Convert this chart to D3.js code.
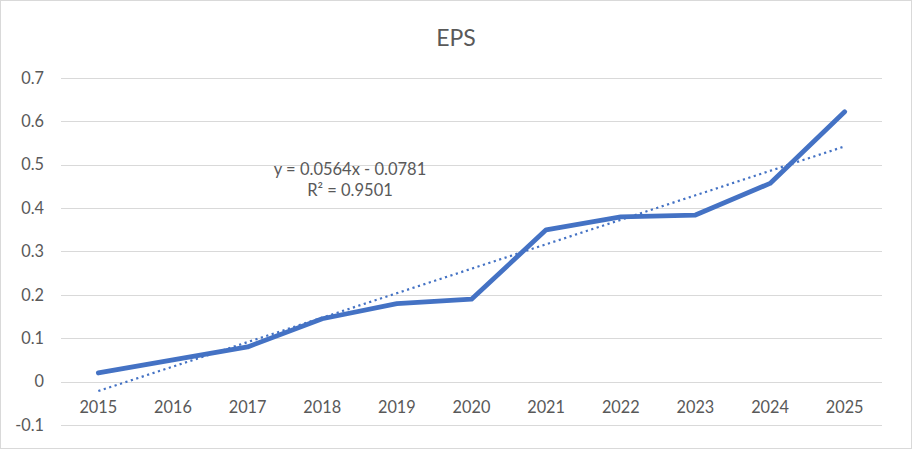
<!DOCTYPE html>
<html><head><meta charset="utf-8">
<script src="https://cdn.jsdelivr.net/npm/d3@7"></script>
<style>body{margin:0;background:#fff}svg{display:block}text{font-family:Lato,"Open Sans",sans-serif}</style>
</head><body><svg id="c" width="912" height="449"></svg>
<script>
const years = ["2015","2016","2017","2018","2019","2020","2021","2022","2023","2024","2025"];
const eps = [0.02,0.05,0.08,0.145,0.18,0.19,0.35,0.38,0.384,0.457,0.622];
const yTicks = [-0.1,0,0.1,0.2,0.3,0.4,0.5,0.6,0.7];
const trendSlope = 0.0564;
const trendIntercept = -0.0781;
const trendLabel = ["y = 0.0564x - 0.0781","R² = 0.9501"];
const title = "EPS";

(function(){
const svg = d3.select("#c");
const W=912,H=449;
svg.append("rect").attr("x",0.5).attr("y",0.5).attr("width",W-1).attr("height",H-1).attr("fill","#fff").attr("stroke","#D9D9D9");
const pL=61,pR=882,pT=78,pB=425;
const x = d3.scaleBand().domain(years).range([pL,pR]);
const y = d3.scaleLinear().domain([-0.1,0.7]).range([pB,pT]);
const g = svg.append("g");
g.selectAll("line.grid").data(yTicks).join("line").attr("class","grid")
 .attr("x1",pL).attr("x2",pR).attr("y1",d=>Math.round(y(d))+0.5).attr("y2",d=>Math.round(y(d))+0.5)
 .attr("stroke","#D9D9D9").attr("stroke-width",1);
g.selectAll("text.yl").data(yTicks).join("text").attr("class","yl")
 .attr("x",44).attr("y",d=>y(d)).attr("dy","0.35em").attr("text-anchor","end")
 .attr("fill","#595959").attr("font-size",16.3).text(d=>String(+d.toFixed(1)));
g.selectAll("text.xl").data(years).join("text").attr("class","xl")
 .attr("x",d=>x(d)+x.bandwidth()/2).attr("y",y(0)+31).attr("text-anchor","middle")
 .attr("fill","#595959").attr("font-size",16.3).text(d=>d);
const cx = d=>x(d)+x.bandwidth()/2;
const tIdx = [1, years.length];
const tx = d3.scaleLinear().domain([1,years.length]).range([cx(years[0]),cx(years[years.length-1])]);
g.append("line").attr("x1",tx(tIdx[0])).attr("x2",tx(tIdx[1]))
 .attr("y1",y(trendSlope*tIdx[0]+trendIntercept)).attr("y2",y(trendSlope*tIdx[1]+trendIntercept))
 .attr("stroke","#4472C4").attr("stroke-width",2.2).attr("stroke-dasharray","2.2 3.5");
g.append("path").datum(years.map((yr,i)=>[cx(yr),y(eps[i])]))
 .attr("d",d3.line()).attr("fill","none").attr("stroke","#4472C4").attr("stroke-width",4.8)
 .attr("stroke-linejoin","round").attr("stroke-linecap","round");
g.selectAll("text.eq").data(trendLabel).join("text").attr("class","eq")
 .attr("x",350).attr("y",(d,i)=>175+i*21).attr("text-anchor","middle")
 .attr("fill","#595959").attr("font-size",16.5).text(d=>d);
svg.append("text").attr("x",W/2).attr("y",46).attr("text-anchor","middle")
 .attr("fill","#595959").attr("font-size",23).text(title);
})();
</script></body></html>
